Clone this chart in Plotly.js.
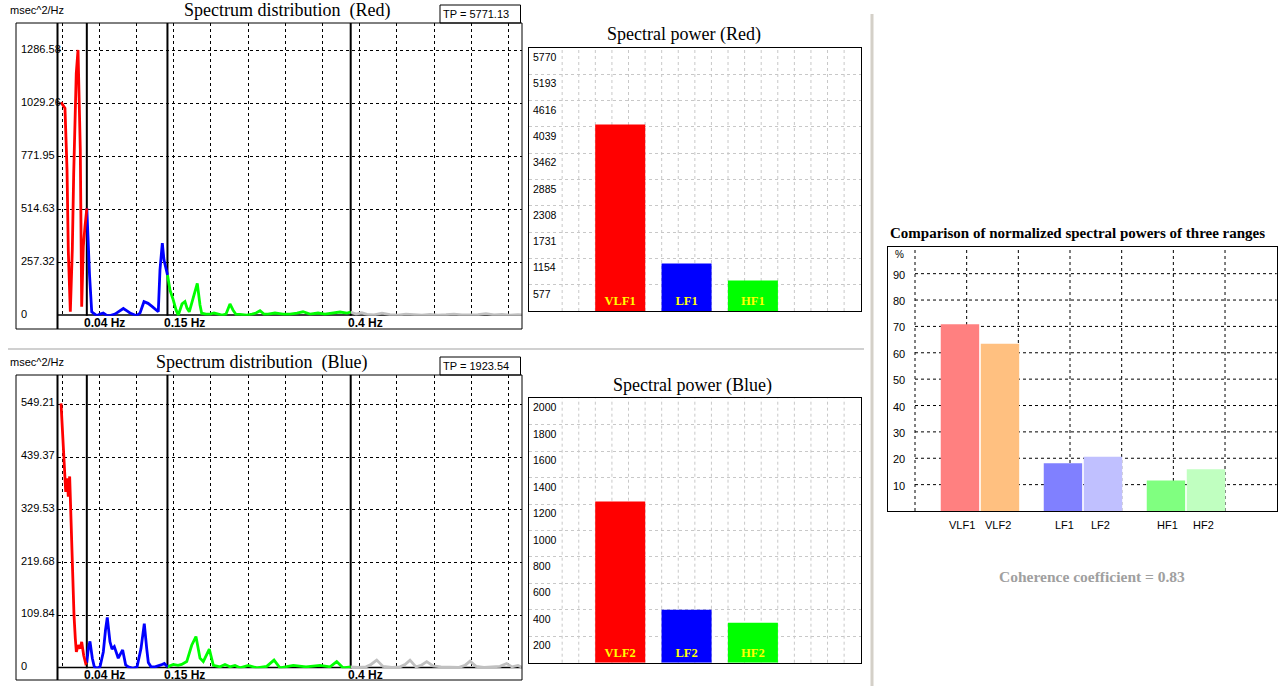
<!DOCTYPE html>
<html><head><meta charset="utf-8">
<script src="https://cdn.plot.ly/plotly-3.0.1.min.js"></script>
<style>html,body{margin:0;padding:0;background:#fff;}#chart{width:1281px;height:686px;}</style>
</head><body><div id="chart"></div>
<script>
// ---------- DATA ----------
// Top spectrum (Red recording), frequency in Hz, power in msec^2/Hz
const vlfFreqRed = [0.0048,0.0102,0.0130,0.0147,0.0175,0.0202,0.0221,0.0239,0.0256,0.0280,0.0293,0.0311,0.0330,0.0352,0.0375,0.0400];
const vlfPowRed  = [1036,1007,707,319,19,319,691,934,1177,1290,1015,804,44,335,432,521];
const lfFreqRed  = [0.0400,0.0416,0.0437,0.0467,0.0498,0.0535,0.0580,0.0625,0.0675,0.0716,0.0784,0.0841,0.0898,0.0948,0.0989,0.1080,0.1126,0.1180,0.1235,0.1289,0.1351,0.1375,0.1398,0.1430,0.1453,0.1476,0.1501];
const lfPowRed   = [521,368,198,19,8,0,8,13,0,0,8,23,35,23,13,0,13,68,60,45,28,19,222,352,270,238,198];
const hfFreqRed  = [0.1501,0.1535,0.1580,0.1617,0.1648,0.1699,0.1739,0.1767,0.1798,0.1849,0.1907,0.1944,0.1967,0.2026,0.2081,0.2135,0.2190,0.2244,0.2299,0.2353,0.2394,0.2435,0.2490,0.2581,0.2654,0.2708,0.2763,0.2817,0.2872,0.2967,0.3076,0.3172,0.3267,0.3349,0.3445,0.3554,0.3649,0.3758,0.3854,0.3950,0.4000];
const hfPowRed   = [198,124,76,28,3,57,68,37,19,86,157,52,12,8,8,13,6,3,8,57,28,6,6,3,8,13,24,8,8,13,8,8,13,19,8,13,8,13,18,13,18];
const restFreqRed = [0.4000,0.4072,0.4150,0.4222,0.4318,0.4427,0.4536,0.4645,0.4754,0.4863,0.4972,0.5082,0.5191,0.5300,0.5409,0.5518,0.5627,0.5736,0.5845,0.5954,0.6064,0.6173,0.6282,0.6337];
const restPowRed  = [18,8,14,6,4,12,5,3,8,4,3,6,3,5,8,4,3,5,10,4,6,3,5,4];

// Bottom spectrum (Blue recording)
const vlfFreqBlue = [0.0048,0.0079,0.0112,0.0134,0.0147,0.0166,0.0180,0.0191,0.0207,0.0225,0.0243,0.0257,0.0284,0.0311,0.0330,0.0357,0.0385,0.0400];
const vlfPowBlue  = [551,471,367,395,357,399,326,284,201,111,62,34,48,41,55,27,10,12];
const lfFreqBlue  = [0.0400,0.0420,0.0443,0.0475,0.0502,0.0539,0.0580,0.0625,0.0655,0.0679,0.0716,0.0744,0.0775,0.0805,0.0829,0.0859,0.0889,0.0930,0.0966,0.1030,0.1085,0.1139,0.1167,0.1184,0.1217,0.1239,0.1276,0.1330,0.1412,0.1457,0.1501];
const lfPowBlue   = [12,41,56,21,3,0,3,34,80,106,55,40,45,30,21,30,38,7,3,0,3,41,80,93,41,12,3,3,7,10,3];
const hfFreqBlue  = [0.1501,0.1580,0.1644,0.1694,0.1763,0.1831,0.1889,0.1944,0.1989,0.2033,0.2071,0.2126,0.2217,0.2285,0.2353,0.2421,0.2490,0.2603,0.2718,0.2854,0.2954,0.3035,0.3217,0.3390,0.3581,0.3718,0.3809,0.3895,0.4000];
const hfPowBlue   = [3,8,6,8,14,48,66,21,14,28,40,6,3,8,3,6,1,6,1,4,17,1,6,3,6,3,14,1,3];
const restFreqBlue = [0.4000,0.4100,0.4209,0.4277,0.4355,0.4441,0.4563,0.4673,0.4741,0.4809,0.4891,0.4959,0.5037,0.5123,0.5232,0.5355,0.5477,0.5559,0.5628,0.5710,0.5819,0.5928,0.6037,0.6128,0.6201,0.6282,0.6337];
const restPowBlue  = [3,2,3,8,17,4,2,3,8,17,3,6,14,5,3,3,2,6,15,4,2,3,4,10,3,6,2];

// Band boundaries
const bandHz = [0.04, 0.15, 0.4];
const bandLabels = ['0.04 Hz', '0.15 Hz', '0.4 Hz'];

// Spectrum y tick labels
const yTicksRed  = ['0','257.32','514.63','771.95','1029.26','1286.58'];
const yTicksBlue = ['0','109.84','219.68','329.53','439.37','549.21'];
const tpRed = 'TP = 5771.13';
const tpBlue = 'TP = 1923.54';

// Spectral power bars
const barLabelsRed  = ['VLF1','LF1','HF1'];
const barValuesRed  = [4090, 1040, 670];
const barLabelsBlue = ['VLF2','LF2','HF2'];
const barValuesBlue = [1220, 400, 303];
const barTicksRed  = [5770,5193,4616,4039,3462,2885,2308,1731,1154,577];
const barTicksBlue = [2000,1800,1600,1400,1200,1000,800,600,400,200];

// Normalized comparison (%)
const compGroups = ['VLF','LF','HF'];
const compValues1 = [70.8, 18.1, 11.6];
const compValues2 = [63.4, 20.6, 15.8];
const compLabels1 = ['VLF1','LF1','HF1'];
const compLabels2 = ['VLF2','LF2','HF2'];
const compTicks = [90,80,70,60,50,40,30,20,10];
const coherence = 'Coherence coefficient = 0.83';

// ---------- LAYOUT HELPERS ----------
const W = 1281, H = 686;
const fx = px => px / W;
const fy = py => 1 - py / H;
const SANS = 'Liberation Sans, Arial, sans-serif';
const SERIF = 'Liberation Serif, Times New Roman, serif';
const PX_PER_HZ = 733, SPEC_L = 57.5, SPEC_R = 522;
const hzMax = (SPEC_R - SPEC_L) / PX_PER_HZ;
const gridHz0 = (62 - SPEC_L) / PX_PER_HZ, gridHzD = 37.2 / PX_PER_HZ;

const traces = [];
function specLine(x, y, color, ax) {
  traces.push({type:'scatter', mode:'lines', x:x, y:y, xaxis:'x'+ax, yaxis:'y'+ax,
    line:{color:color, width:2.8}, hoverinfo:'skip', showlegend:false});
}
specLine(restFreqRed, restPowRed, '#c0c0c0', '');
specLine(hfFreqRed, hfPowRed, '#00ff00', '');
specLine(lfFreqRed, lfPowRed, '#0000ff', '');
specLine(vlfFreqRed, vlfPowRed, '#ff0000', '');
specLine(restFreqBlue, restPowBlue, '#c0c0c0', '2');
specLine(hfFreqBlue, hfPowBlue, '#00ff00', '2');
specLine(lfFreqBlue, lfPowBlue, '#0000ff', '2');
specLine(vlfFreqBlue, vlfPowBlue, '#ff0000', '2');

const barColors = ['#ff0000','#0000ff','#00ff00'];
function powerBars(labels, values, ax) {
  traces.push({type:'bar', x:labels, y:values, xaxis:'x'+ax, yaxis:'y'+ax, width:0.754,
    marker:{color:barColors, line:{width:0}}, text:labels.map(t=>'<b>'+t+'</b>'),
    textposition:'inside', insidetextanchor:'start', textangle:0, constraintext:'none',
    textfont:{family:SERIF, size:12.5, color:'#ffff00'}, hoverinfo:'skip', showlegend:false});
}
powerBars(barLabelsRed, barValuesRed, '3');
powerBars(barLabelsBlue, barValuesBlue, '4');

traces.push({type:'bar', x:compGroups, y:compValues1, xaxis:'x5', yaxis:'y5',
  marker:{color:['#ff8080','#8080ff','#80ff80'], line:{width:0}}, hoverinfo:'skip', showlegend:false});
traces.push({type:'bar', x:compGroups, y:compValues2, xaxis:'x5', yaxis:'y5',
  marker:{color:['#ffc080','#c0c0ff','#c0ffc0'], line:{width:0}}, hoverinfo:'skip', showlegend:false});

const specX = (anchor) => ({domain:[fx(SPEC_L), fx(SPEC_R)], range:[0, hzMax], anchor:anchor,
  showgrid:true, gridcolor:'#000', gridwidth:1, griddash:'3px,3px', tick0:gridHz0, dtick:gridHzD,
  showticklabels:false, ticks:'', zeroline:false, showline:false, fixedrange:true});
const specY = (top, bottom, max, dt, anchor) => ({domain:[fy(bottom), fy(top)], range:[0, max], anchor:anchor,
  showgrid:true, gridcolor:'#000', gridwidth:1, griddash:'3px,3px', tick0:0, dtick:dt,
  showticklabels:false, ticks:'', zeroline:false, showline:false, fixedrange:true});
const barX = (anchor) => ({domain:[fx(529), fx(860.7)], type:'category', range:[-1.375, 3.625], anchor:anchor,
  showgrid:false, showticklabels:false, ticks:'', showline:true, mirror:true, linecolor:'#000', linewidth:1, zeroline:false});
const barY = (top, bottom, max, dt, anchor) => ({domain:[fy(bottom), fy(top)], range:[0, max], anchor:anchor,
  showgrid:true, gridcolor:'#c8c8c8', gridwidth:1, griddash:'3px,3px', tick0:0, dtick:dt,
  showticklabels:false, ticks:'', showline:true, mirror:true, linecolor:'#000', linewidth:1, zeroline:false});

const shapes = [];
const annotations = [];
function ann(o) { annotations.push(Object.assign({showarrow:false, xref:'paper', yref:'paper'}, o)); }
function pline(x0,y0,x1,y1,color,width,dash) {
  shapes.push({type:'line', xref:'paper', yref:'paper', x0:fx(x0), y0:fy(y0), x1:fx(x1), y1:fy(y1),
    line:{color:color, width:width, dash:dash||'solid'}, layer:'above'});
}
function prect(x0,y0,x1,y1) {
  shapes.push({type:'rect', xref:'paper', yref:'paper', x0:fx(x0), y0:fy(y1), x1:fx(x1), y1:fy(y0),
    line:{color:'#000', width:1}, fillcolor:'rgba(0,0,0,0)', layer:'above'});
}

function spectrumFrame(ax, top, base, bottom, ticks, title, titleX, tp) {
  const xr = 'x'+ax, yr = 'y'+ax;
  prect(16, top, 522, bottom);
  pline(SPEC_L, top, SPEC_L, bottom, '#000', 2);
  bandHz.forEach((f, i) => {
    shapes.push({type:'line', xref:xr, yref:yr+' domain', x0:f, x1:f, y0:0, y1:1, line:{color:'#000', width:2}, layer:'below'});
    ann({xref:xr, x:f, xanchor:'left', xshift:-5, y:fy((base+bottom)/2 + 1), yanchor:'middle',
      text:'<b>'+bandLabels[i]+'</b>', font:{family:SANS, size:12, color:'#000'}});
  });
  shapes.push({type:'line', xref:xr+' domain', yref:yr, x0:0, x1:1, y0:0, y1:0, line:{color:'#000', width:3}, layer:'below'});
  ticks.forEach(t => ann({x:fx(19), xanchor:'left', yref:yr, y:parseFloat(t), yanchor:'middle', yshift:2,
    text:t, font:{family:SANS, size:11, color:'#000'}}));
  prect(440, top-18, 520.5, top);
  ann({x:fx(441), xanchor:'left', y:fy(top-9), yanchor:'middle', text:tp, font:{family:SANS, size:11, color:'#000'}});
  ann({x:fx(8), xanchor:'left', y:fy(top-13), yanchor:'middle', text:'msec^2/Hz', font:{family:SANS, size:11, color:'#000'}});
  ann({x:fx(titleX), xanchor:'center', y:fy(top-13), yanchor:'middle', text:title, font:{family:SERIF, size:18, color:'#000'}});
}
spectrumFrame('', 23, 315.7, 329, yTicksRed, 'Spectrum distribution\u00a0 (Red)', 287, tpRed);
spectrumFrame('2', 375, 668.3, 680, yTicksBlue, 'Spectrum distribution\u00a0 (Blue)', 261, tpBlue);

function barFrame(ax, top, ticks, title, titleX, titleY) {
  for (let k = 2; k < 20; k++) {
    shapes.push({type:'line', xref:'x'+ax+' domain', yref:'y'+ax+' domain', x0:k/20, x1:k/20, y0:0, y1:1,
      line:{color:'#c8c8c8', width:1, dash:'3px,3px'}, layer:'below'});
  }
  ticks.forEach(v => ann({x:fx(531), xanchor:'left', yref:'y'+ax, y:v, yanchor:'top', yshift:-1,
    text:String(v), font:{family:SANS, size:10.5, color:'#000'}}));
  ann({x:fx(titleX), xanchor:'center', y:fy(titleY), yanchor:'middle', text:title, font:{family:SERIF, size:18, color:'#000'}});
}
barFrame('3', 48, barTicksRed, 'Spectral power (Red)', 684, 34);
barFrame('4', 398, barTicksBlue, 'Spectral power (Blue)', 692, 385.5);

// comparison chart grid
const CL = 888.3, CR = 1276.7, CG0 = 915, CGD = 51.67;
for (let k = 0; k < 7; k++) {
  const d = (CG0 + k*CGD - CL) / (CR - CL);
  shapes.push({type:'line', xref:'x5 domain', yref:'y5 domain', x0:d, x1:d, y0:0, y1:1,
    line:{color:'#000', width:1, dash:'3px,3px'}, layer:'below'});
}
compTicks.forEach(v => {
  shapes.push({type:'line', xref:'x5 domain', yref:'y5', x0:(CG0-CL)/(CR-CL), x1:1, y0:v, y1:v,
    line:{color:'#000', width:1, dash:'3px,3px'}, layer:'below'});
  ann({x:fx(898.5), xanchor:'center', yref:'y5', y:v, yanchor:'middle', yshift:-1, text:String(v),
    font:{family:SANS, size:11, color:'#000'}});
});
ann({x:fx(899), xanchor:'center', y:fy(254), yanchor:'middle', text:'%', font:{family:SANS, size:10, color:'#000'}});
compGroups.forEach((g, i) => {
  ann({xref:'x5', x:g, xanchor:'center', xshift:-18, y:fy(525), yanchor:'middle', text:compLabels1[i], font:{family:SANS, size:11, color:'#000'}});
  ann({xref:'x5', x:g, xanchor:'center', xshift:18, y:fy(525), yanchor:'middle', text:compLabels2[i], font:{family:SANS, size:11, color:'#000'}});
});
ann({x:fx(1077.5), xanchor:'center', y:fy(233), yanchor:'middle', text:'<b>Comparison of normalized spectral powers of three ranges</b>',
  font:{family:SERIF, size:15, color:'#000'}});
ann({x:fx(1091.7), xanchor:'center', y:fy(576), yanchor:'middle', text:'<b>'+coherence+'</b>',
  font:{family:SERIF, size:15.5, color:'#a0a0a0'}});

// separators
pline(8, 349, 864, 349, '#d0d0d0', 2);
pline(872, 14, 872, 686, '#d4d0c8', 3);

const layout = {
  width: W, height: H, margin:{l:0, r:0, t:0, b:0},
  paper_bgcolor:'#fff', plot_bgcolor:'rgba(0,0,0,0)', showlegend:false,
  barmode:'group', bargap:0.223, bargroupgap:0.04,
  xaxis: specX('y'), yaxis: specY(23, 315.7, 1421, 257.316, 'x'),
  xaxis2: specX('y2'), yaxis2: specY(375, 668.3, 610, 109.842, 'x2'),
  xaxis3: barX('y3'), yaxis3: barY(48, 311, 5770, 577, 'x3'),
  xaxis4: barX('y4'), yaxis4: barY(398.3, 662.7, 2000, 200, 'x4'),
  xaxis5: {domain:[fx(CL), fx(CR)], type:'category', range:[-0.89, 2.881], anchor:'y5',
    showgrid:false, showticklabels:false, ticks:'', showline:true, mirror:true, linecolor:'#000', linewidth:1, zeroline:false},
  yaxis5: {domain:[fy(511), fy(247.3)], range:[0, 100], anchor:'x5', showgrid:false, showticklabels:false, ticks:'',
    showline:true, mirror:true, linecolor:'#000', linewidth:1, zeroline:false},
  shapes: shapes, annotations: annotations
};
Plotly.newPlot('chart', traces, layout, {staticPlot:true, displayModeBar:false});
</script></body></html>
